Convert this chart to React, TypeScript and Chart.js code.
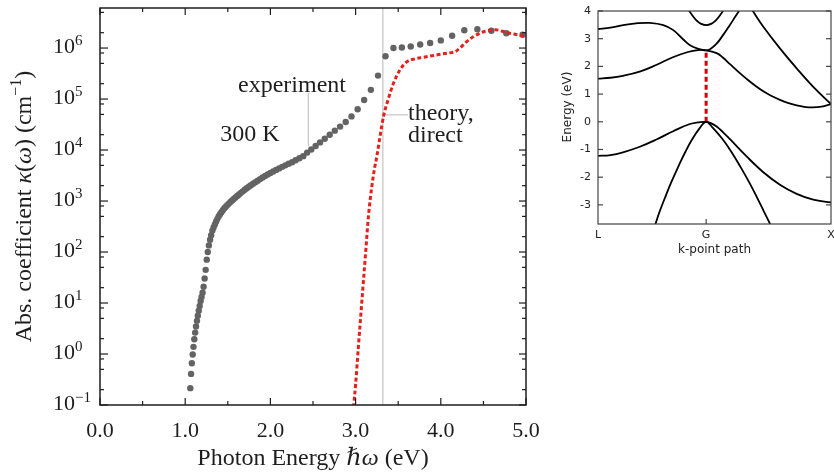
import React, { useEffect, useRef } from 'react';
import { Chart, registerables } from 'chart.js';
Chart.register(...registerables);

// ---------- main panel data ----------
const expEnergy = [
  1.060, 1.069, 1.078, 1.088, 1.097, 1.107, 1.117, 1.127, 1.138, 1.148, 1.159, 1.170, 1.181, 1.192, 1.204,
  1.216, 1.228, 1.240, 1.253, 1.265, 1.278, 1.292, 1.305, 1.319, 1.333, 1.348, 1.363, 1.378, 1.393, 1.409,
  1.425, 1.442, 1.459, 1.476, 1.494, 1.512, 1.531, 1.550, 1.570, 1.590, 1.610, 1.632, 1.653, 1.676, 1.699,
  1.722, 1.746, 1.771, 1.797, 1.824, 1.851, 1.879, 1.908, 1.938, 1.968, 2.000, 2.033, 2.067, 2.102, 2.138,
  2.175, 2.214, 2.255, 2.296, 2.340, 2.385, 2.431, 2.480, 2.531, 2.583, 2.638, 2.696, 2.756, 2.818, 2.884,
  2.952, 3.024, 3.100, 3.179, 3.263, 3.351, 3.444, 3.543, 3.647, 3.758, 3.875, 4.000, 4.133, 4.276, 4.429,
  4.593, 4.769, 4.960,
];
// log10 of kappa (cm^-1)
const expLogKappa = [
  -0.67, -0.39, -0.18, -0.01, 0.14, 0.29, 0.42, 0.54, 0.65, 0.75, 0.85, 0.94, 1.04, 1.12, 1.20,
  1.32, 1.48, 1.65, 1.85, 2.00, 2.13, 2.24, 2.33, 2.42, 2.48, 2.54, 2.60, 2.65, 2.70, 2.74,
  2.78, 2.82, 2.86, 2.89, 2.92, 2.95, 2.98, 3.01, 3.04, 3.07, 3.10, 3.13, 3.16, 3.19, 3.22,
  3.25, 3.28, 3.31, 3.34, 3.37, 3.40, 3.43, 3.46, 3.49, 3.52, 3.55, 3.58, 3.61, 3.64, 3.67,
  3.70, 3.73, 3.76, 3.80, 3.84, 3.88, 3.95, 4.01, 4.08, 4.15, 4.22, 4.30, 4.38, 4.46, 4.55,
  4.66, 4.80, 4.98, 5.18, 5.46, 5.84, 6.00, 6.01, 6.03, 6.07, 6.10, 6.15, 6.24, 6.35, 6.37,
  6.34, 6.29, 6.26,
];
const theoryEnergy = [
  2.965, 2.98, 3.00, 3.03, 3.06, 3.09, 3.12, 3.15, 3.19, 3.22, 3.25, 3.29, 3.33, 3.38, 3.44, 3.52,
  3.60, 3.70, 3.80, 3.90, 4.00, 4.12, 4.17, 4.23, 4.30, 4.38, 4.46, 4.52, 4.58, 4.64, 4.72, 4.81, 4.90, 5.00,
];
const theoryLogKappa = [
  -1.3, -0.97, -0.6, 0.08, 0.74, 1.39, 2.04, 2.69, 3.28, 3.62, 3.88, 4.30, 4.68, 4.98, 5.29, 5.57,
  5.73, 5.79, 5.82, 5.85, 5.88, 5.91, 5.93, 6.01, 6.12, 6.22, 6.29, 6.33, 6.35, 6.36, 6.33, 6.29, 6.26, 6.22,
];
const xMajorTicks = [0, 1, 2, 3, 4, 5];
const xMinorTicks = [0.5, 1.5, 2.5, 3.5, 4.5];
const yExponents = [-1, 0, 1, 2, 3, 4, 5, 6];
const yMinorMantissas = [2, 5, 8];
const guideEnergy = 3.32;
const expLeader = { e: 2.445, logFrom: 4.07, logTo: 5.12 };
const theoryLeader = { log: 4.69, eFrom: 3.32, eTo: 3.615 };
const annotations = [
  { text: 'experiment', e: 2.254, log: 5.14, align: 'center' },
  { text: '300 K', e: 1.76, log: 4.17, align: 'center' },
  { text: 'theory,', e: 3.615, log: 4.58, align: 'left' },
  { text: 'direct', e: 3.615, log: 4.15, align: 'left' },
];

// ---------- inset (band structure) data ----------
const kTickPos = [0, 0.866, 1.866];
const kTickLabels = ['L', 'G', 'X'];
const energyTicks = [-3, -2, -1, 0, 1, 2, 3, 4];
const bandV1 = [[0, -1.23], [0.1, -1.2], [0.2, -1.1], [0.335, -0.9], [0.468, -0.64], [0.602, -0.34], [0.736, -0.08], [0.866, 0],
  [0.9, -0.04], [0.95, -0.17], [1.0, -0.37], [1.057, -0.63], [1.19, -1.25], [1.324, -1.82], [1.457, -2.27], [1.591, -2.6], [1.724, -2.81], [1.866, -2.91]];
const bandV2 = [[0.452, -3.8], [0.493, -3.25], [0.54, -2.7], [0.587, -2.18], [0.643, -1.62], [0.698, -1.1], [0.753, -0.64], [0.816, -0.22], [0.866, 0],
  [0.92, -0.22], [1.0, -0.64], [1.07, -1.1], [1.14, -1.62], [1.21, -2.18], [1.27, -2.7], [1.33, -3.25], [1.39, -3.8]];
const bandC1 = [[0, 1.56], [0.1, 1.59], [0.2, 1.66], [0.34, 1.82], [0.47, 2.06], [0.6, 2.33], [0.72, 2.52], [0.8, 2.59], [0.866, 2.58],
  [0.95, 2.48], [1.0, 2.32], [1.057, 2.08], [1.12, 1.82], [1.19, 1.55], [1.26, 1.3], [1.324, 1.1], [1.39, 0.93], [1.457, 0.79],
  [1.52, 0.68], [1.591, 0.59], [1.65, 0.54], [1.72, 0.52], [1.79, 0.55], [1.866, 0.64]];
const bandC2 = [[0, 3.35], [0.1, 3.4], [0.203, 3.49], [0.32, 3.56], [0.416, 3.57], [0.523, 3.49], [0.603, 3.31], [0.683, 2.97], [0.737, 2.76],
  [0.8, 2.64], [0.866, 2.58], [0.9, 2.63], [0.95, 2.82], [1.0, 3.12], [1.05, 3.45], [1.1, 3.8], [1.15, 4.15]];
const bandC3 = [[0.72, 4.09], [0.746, 3.9], [0.786, 3.67], [0.826, 3.535], [0.866, 3.49], [0.906, 3.535], [0.946, 3.67], [0.986, 3.9], [1.012, 4.09]];
const bandC4 = [[1.23, 4.08], [1.244, 3.97], [1.324, 3.43], [1.457, 2.65], [1.591, 1.93], [1.724, 1.26], [1.866, 0.64]];
const gapLine = [[0.866, 0], [0.866, 2.57]];

const SERIF = '"Liberation Serif", "DejaVu Serif", serif';
const SANS = '"DejaVu Sans", "Liberation Sans", sans-serif';
const INK = '#1e1e1e';

type Run = { t: string; f: string; dy?: number };
function drawRuns(ctx: CanvasRenderingContext2D, runs: Run[], x: number, y: number, align: 'center' | 'left') {
  let total = 0;
  for (const r of runs) { ctx.font = r.f; total += ctx.measureText(r.t).width; }
  let cx = align === 'center' ? x - total / 2 : x;
  ctx.textAlign = 'left';
  ctx.textBaseline = 'alphabetic';
  for (const r of runs) {
    ctx.font = r.f;
    ctx.fillText(r.t, cx, y + (r.dy || 0));
    cx += ctx.measureText(r.t).width;
  }
}

function seg(ctx: CanvasRenderingContext2D, x1: number, y1: number, x2: number, y2: number) {
  ctx.beginPath(); ctx.moveTo(x1, y1); ctx.lineTo(x2, y2); ctx.stroke();
}

const mainDecor = {
  id: 'mainDecor',
  beforeDatasetsDraw(chart: any) {
    const { ctx, chartArea: a } = chart;
    const xs = chart.scales.x, ys = chart.scales.y;
    ctx.save();
    ctx.strokeStyle = '#c4c4c4';
    ctx.lineWidth = 1.2;
    const gx = xs.getPixelForValue(guideEnergy);
    seg(ctx, gx, a.top, gx, a.bottom);
    const ex = xs.getPixelForValue(expLeader.e);
    seg(ctx, ex, ys.getPixelForValue(Math.pow(10, expLeader.logFrom)), ex, ys.getPixelForValue(Math.pow(10, expLeader.logTo)));
    const ty = ys.getPixelForValue(Math.pow(10, theoryLeader.log));
    seg(ctx, xs.getPixelForValue(theoryLeader.eFrom), ty, xs.getPixelForValue(theoryLeader.eTo), ty);
    ctx.restore();
  },
  afterDraw(chart: any) {
    const { ctx, chartArea: a } = chart;
    const xs = chart.scales.x, ys = chart.scales.y;
    ctx.save();
    ctx.strokeStyle = INK;
    ctx.lineWidth = 1.5;
    ctx.strokeRect(a.left, a.top, a.right - a.left, a.bottom - a.top);
    ctx.lineWidth = 1.2;
    for (const v of xMajorTicks) {
      const px = xs.getPixelForValue(v);
      seg(ctx, px, a.bottom, px, a.bottom - 7);
      seg(ctx, px, a.top, px, a.top + 7);
    }
    for (const v of xMinorTicks) {
      const px = xs.getPixelForValue(v);
      seg(ctx, px, a.bottom, px, a.bottom - 4);
      seg(ctx, px, a.top, px, a.top + 4);
    }
    for (const e of yExponents) {
      const py = ys.getPixelForValue(Math.pow(10, e));
      seg(ctx, a.left, py, a.left + 8, py);
      seg(ctx, a.right, py, a.right - 7, py);
      for (const m of yMinorMantissas) {
        const val = m * Math.pow(10, e);
        if (val > ys.max) continue;
        const qy = ys.getPixelForValue(val);
        seg(ctx, a.left, qy, a.left + 4, qy);
        seg(ctx, a.right, qy, a.right - 4, qy);
      }
    }
    ctx.fillStyle = INK;
    // x tick labels
    ctx.font = `22px ${SERIF}`;
    ctx.textAlign = 'center';
    ctx.textBaseline = 'alphabetic';
    for (const v of xMajorTicks) {
      ctx.fillText(v.toFixed(1), xs.getPixelForValue(v), 437);
    }
    // y tick labels 10^n
    for (const e of yExponents) {
      const py = ys.getPixelForValue(Math.pow(10, e));
      drawRuns(ctx, [
        { t: '10', f: `22px ${SERIF}` },
        { t: e < 0 ? '\u2212' + Math.abs(e) : String(e), f: `15px ${SERIF}`, dy: -8.5 },
      ], 53, py + 5, 'left');
    }
    // x title
    drawRuns(ctx, [
      { t: 'Photon Energy ', f: `24px ${SERIF}` },
      { t: '\u210F\u03C9', f: `italic 24px ${SERIF}` },
      { t: ' (eV)', f: `24px ${SERIF}` },
    ], (a.left + a.right) / 2, 465, 'center');
    // y title
    ctx.save();
    ctx.translate(31, (a.top + a.bottom) / 2);
    ctx.rotate(-Math.PI / 2);
    drawRuns(ctx, [
      { t: 'Abs. coefficient ', f: `24px ${SERIF}` },
      { t: '\u03BA', f: `italic 24px ${SERIF}` },
      { t: '(', f: `24px ${SERIF}` },
      { t: '\u03C9', f: `italic 24px ${SERIF}` },
      { t: ') (cm', f: `24px ${SERIF}` },
      { t: '\u22121', f: `16px ${SERIF}`, dy: -10 },
      { t: ')', f: `24px ${SERIF}` },
    ], 0, 0, 'center');
    ctx.restore();
    // annotations
    for (const an of annotations) {
      drawRuns(ctx, [{ t: an.text, f: `24px ${SERIF}` }],
        xs.getPixelForValue(an.e), ys.getPixelForValue(Math.pow(10, an.log)), an.align as any);
    }
    ctx.restore();
  },
};

const insetDecor = {
  id: 'insetDecor',
  afterDraw(chart: any) {
    const { ctx, chartArea: a } = chart;
    const xs = chart.scales.x, ys = chart.scales.y;
    ctx.save();
    ctx.strokeStyle = '#444';
    ctx.lineWidth = 1.2;
    ctx.strokeRect(a.left, a.top, a.right - a.left, a.bottom - a.top);
    for (const v of energyTicks) {
      const py = ys.getPixelForValue(v);
      seg(ctx, a.left, py, a.left + 5, py);
      seg(ctx, a.right, py, a.right - 5, py);
    }
    const gx = xs.getPixelForValue(kTickPos[1]);
    seg(ctx, gx, a.bottom, gx, a.bottom - 5);
    ctx.fillStyle = '#222';
    ctx.font = `11px ${SANS}`;
    ctx.textAlign = 'right';
    ctx.textBaseline = 'middle';
    for (const v of energyTicks) {
      ctx.fillText(String(v), a.left - 7, ys.getPixelForValue(v));
    }
    ctx.textAlign = 'center';
    ctx.textBaseline = 'alphabetic';
    kTickPos.forEach((k, i) => {
      ctx.fillText(kTickLabels[i], xs.getPixelForValue(k), 238);
    });
    ctx.font = `12px ${SANS}`;
    ctx.fillText('k-point path', (a.left + a.right) / 2, 253);
    ctx.save();
    ctx.translate(31, 107);
    ctx.rotate(-Math.PI / 2);
    ctx.textAlign = 'center';
    ctx.fillText('Energy (eV)', 0, 0);
    ctx.restore();
    ctx.restore();
  },
};

const toXY = (pairs: number[][]) => pairs.map(([x, y]) => ({ x, y }));

export default function App() {
  const mainRef = useRef<HTMLCanvasElement>(null);
  const insetRef = useRef<HTMLCanvasElement>(null);

  useEffect(() => {
    const expData = expEnergy.map((e, i) => ({ x: e, y: Math.pow(10, expLogKappa[i]) }));
    const thData = theoryEnergy.map((e, i) => ({ x: e, y: Math.pow(10, theoryLogKappa[i]) }));
    const main = new Chart(mainRef.current!, {
      type: 'scatter',
      data: {
        datasets: [
          {
            data: expData, showLine: false, pointRadius: 3.2, pointBackgroundColor: '#636363',
            pointBorderWidth: 0, borderColor: '#636363', order: 2,
          } as any,
          {
            data: thData, showLine: true, pointRadius: 0, borderColor: '#e4211c', borderWidth: 3,
            borderDash: [4, 2.5], cubicInterpolationMode: 'monotone', order: 1,
          } as any,
        ],
      },
      options: {
        responsive: false, animation: false, devicePixelRatio: 1,
        layout: { padding: { top: 8, right: 14, left: 0, bottom: 0 } },
        plugins: { legend: { display: false }, tooltip: { enabled: false } },
        events: [],
        scales: {
          x: {
            type: 'linear', min: 0, max: 5, grid: { display: false }, border: { display: false },
            ticks: { display: false }, afterFit: (s: any) => { s.height = 68; },
          },
          y: {
            type: 'logarithmic', min: 0.1, max: 6.1e6, grid: { display: false }, border: { display: false },
            ticks: { display: false }, afterFit: (s: any) => { s.width = 100; },
          },
        },
      } as any,
      plugins: [mainDecor],
    });

    const bandStyle = { showLine: true, pointRadius: 0, borderColor: '#000', borderWidth: 1.8, tension: 0.4 };
    const inset = new Chart(insetRef.current!, {
      type: 'scatter',
      data: {
        datasets: [
          { data: toXY(bandV1), ...bandStyle } as any,
          { data: toXY(bandV2), ...bandStyle } as any,
          { data: toXY(bandC1), ...bandStyle } as any,
          { data: toXY(bandC2), ...bandStyle } as any,
          { data: toXY(bandC3), ...bandStyle } as any,
          { data: toXY(bandC4), ...bandStyle } as any,
          { data: toXY(gapLine), showLine: true, pointRadius: 0, borderColor: '#d40000', borderWidth: 3, borderDash: [5, 3] } as any,
        ],
      },
      options: {
        responsive: false, animation: false, devicePixelRatio: 1,
        layout: { padding: { top: 11, right: 3, left: 0, bottom: 0 } },
        plugins: { legend: { display: false }, tooltip: { enabled: false } },
        events: [],
        scales: {
          x: {
            type: 'linear', min: 0, max: 1.866, grid: { display: false }, border: { display: false },
            ticks: { display: false }, afterFit: (s: any) => { s.height = 36; },
          },
          y: {
            type: 'linear', min: -3.69, max: 4, grid: { display: false }, border: { display: false },
            ticks: { display: false }, afterFit: (s: any) => { s.width = 58; },
          },
        },
      } as any,
      plugins: [insetDecor],
    });

    return () => { main.destroy(); inset.destroy(); };
  }, []);

  return (
    <div style={{ position: 'fixed', left: 0, top: 0, width: 834, height: 473, background: '#fff' }}>
      <canvas ref={mainRef} width={540} height={473} style={{ position: 'absolute', left: 0, top: 0 }} />
      <canvas ref={insetRef} width={294} height={260} style={{ position: 'absolute', left: 540, top: 0 }} />
    </div>
  );
}
